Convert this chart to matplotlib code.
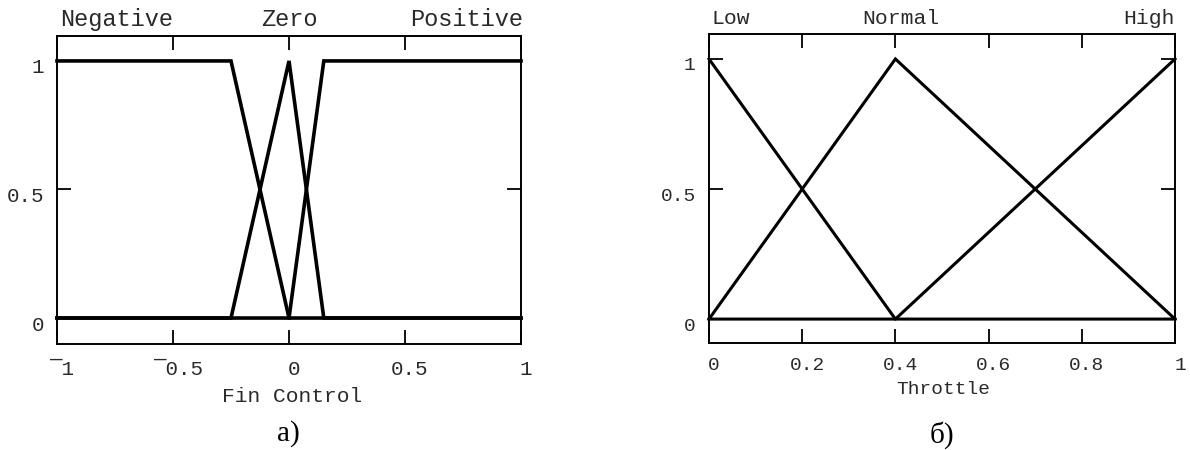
import matplotlib
matplotlib.use("Agg")
import matplotlib.pyplot as plt
from matplotlib.transforms import ScaledTranslation

# membership functions for the fin control input
fin_x = [-1, -0.25, 0, 0.15, 1]
fin_negative = [1, 1, 0, 0, 0]
fin_zero = [0, 0, 1, 0, 0]
fin_positive = [0, 0, 0, 1, 1]
fin_terms = ["Negative", "Zero", "Positive"]
fin_ticks = [-1, -0.5, 0, 0.5, 1]
fin_ticklabels = ["\u00af1", "\u00af0.5", "0", "0.5", "1"]

# membership functions for the throttle output
thr_x = [0, 0.4, 1]
thr_low = [1, 0, 0]
thr_normal = [0, 1, 0]
thr_high = [0, 0, 1]
thr_terms = ["Low", "Normal", "High"]
thr_ticks = [0, 0.2, 0.4, 0.6, 0.8, 1]
thr_ticklabels = ["0", "0.2", "0.4", "0.6", "0.8", "1"]

y_ticks = [0, 0.5, 1]
y_ticklabels = ["0", "0.5", "1"]

plt.rcParams['font.family'] = ['Liberation Mono', 'DejaVu Sans Mono']

W, H = 1190, 450
fig = plt.figure(figsize=(W / 100, H / 100), dpi=100)
TXT = '#2a2a2a'


def px_axes(x0, y0, x1, y1):
    return fig.add_axes([x0 / W, 1 - y1 / H, (x1 - x0) / W, (y1 - y0) / H])


def style_axes(ax, xlim, ylim, ticks, ticklabels, xpad, fs):
    ax.set_xlim(*xlim)
    ax.set_ylim(*ylim)
    ax.set_xticks(ticks)
    ax.set_xticklabels(ticklabels)
    ax.set_yticks(y_ticks)
    ax.set_yticklabels(y_ticklabels)
    ax.tick_params(axis='both', direction='in', top=True, right=True,
                   length=10, width=1.3, labelsize=fs, labelcolor=TXT)
    ax.tick_params(axis='y', pad=9.5)
    ax.tick_params(axis='x', pad=xpad)
    # labels sit a few pixels right / below their ticks
    shift_x = ScaledTranslation(5 / 100, 0, fig.dpi_scale_trans)
    shift_y = ScaledTranslation(0, -5 / 100, fig.dpi_scale_trans)
    for lab in ax.get_xticklabels():
        lab.set_transform(lab.get_transform() + shift_x)
    for lab in ax.get_yticklabels():
        lab.set_transform(lab.get_transform() + shift_y)
    for sp in ax.spines.values():
        sp.set_linewidth(1.4)
        sp.set_color('black')


# a) fin control
ax1 = px_axes(57, 36, 521, 344)
for ys in (fin_negative, fin_zero, fin_positive):
    ax1.plot(fin_x, ys, color='black', lw=2.6, solid_joinstyle='miter', clip_on=False)
style_axes(ax1, (-1, 1), (-0.101, 1.097), fin_ticks, fin_ticklabels, 11.5, 15)
ax1.text(0.007, 1.052, fin_terms[0], transform=ax1.transAxes, ha='left', va='center',
         fontsize=17, color=TXT)
ax1.text(0.5, 1.052, fin_terms[1], transform=ax1.transAxes, ha='center', va='center',
         fontsize=17, color=TXT)
ax1.text(1.004, 1.052, fin_terms[2], transform=ax1.transAxes, ha='right', va='center',
         fontsize=17, color=TXT)
fig.text(292 / W, 1 - 397 / H, "Fin Control", ha='center', va='center', fontsize=15.3, color=TXT)
fig.text(288 / W, 1 - 434 / H, "а)", ha='center', va='center', fontsize=21,
         family=['Liberation Serif', 'DejaVu Serif'])

# б) throttle
ax2 = px_axes(709, 34, 1175, 343)
for ys in (thr_low, thr_normal, thr_high):
    ax2.plot(thr_x, ys, color='black', lw=2.2, solid_joinstyle='miter', clip_on=False)
style_axes(ax2, (0, 1), (-0.092, 1.096), thr_ticks, thr_ticklabels, 10, 14)
ax2.text(0.006, 1.05, thr_terms[0], transform=ax2.transAxes, ha='left', va='center',
         fontsize=15.4, color=TXT)
ax2.text(0.412, 1.05, thr_terms[1], transform=ax2.transAxes, ha='center', va='center',
         fontsize=15.4, color=TXT)
ax2.text(1.0, 1.05, thr_terms[2], transform=ax2.transAxes, ha='right', va='center',
         fontsize=15.4, color=TXT)
fig.text(943 / W, 1 - 390 / H, "Throttle", ha='center', va='center', fontsize=14, color=TXT)
fig.text(942 / W, 1 - 435 / H, "б)", ha='center', va='center', fontsize=21,
         family=['Liberation Serif', 'DejaVu Serif'])

fig.savefig("out.png", dpi=100)
